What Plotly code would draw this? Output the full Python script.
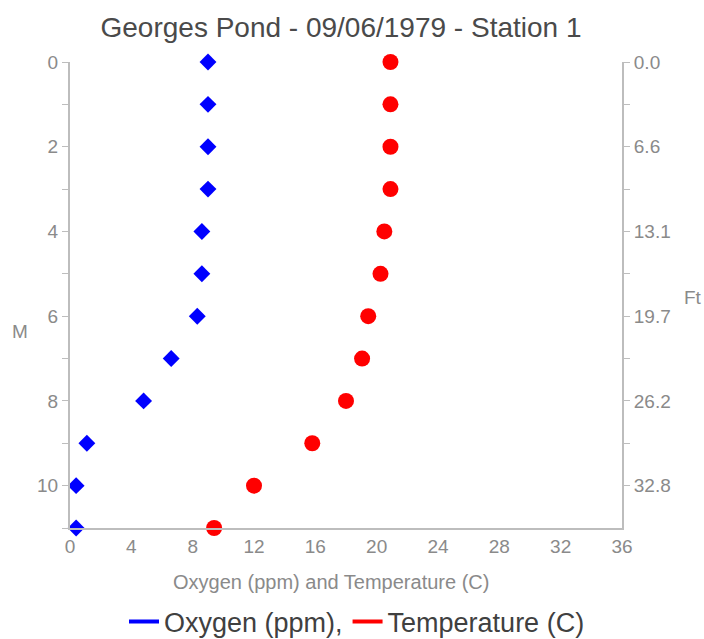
import plotly.graph_objects as go

# Depth profile, Georges Pond, Station 1, 09/06/1979
depth_m = [0, 1, 2, 3, 4, 5, 6, 7, 8, 9, 10, 11]
oxygen_ppm = [9.0, 9.0, 9.0, 9.0, 8.6, 8.6, 8.3, 6.6, 4.8, 1.1, 0.4, 0.4]
temperature_c = [20.9, 20.9, 20.9, 20.9, 20.5, 20.25, 19.45, 19.05, 18.0, 15.8, 12.0, 9.4]

x_ticks = [0, 4, 8, 12, 16, 20, 24, 28, 32, 36]
m_ticks = list(range(0, 12))
M_TO_FT = 3.28084

FONT = "Liberation Sans, Arial, sans-serif"
AXIS_COLOR = "#bdbdbd"
LABEL_GREY = "#8a8a8a"
TICK_FONT = dict(family=FONT, size=19, color=LABEL_GREY)

W, H = 704, 639
L, R, T, B = 70, 82, 62, 111
PW, PH = W - L - R, H - T - B

left_text = [str(m) if m % 2 == 0 and m < 11 else "" for m in m_ticks]
right_text = [f"{m * M_TO_FT:.1f}" if m % 2 == 0 and m < 11 else "" for m in m_ticks]

fig = go.Figure()

fig.add_trace(go.Scatter(
    x=oxygen_ppm, y=depth_m, mode="markers", showlegend=False, cliponaxis=False,
    marker=dict(symbol="diamond", size=13, color="#0000ff"),
    name="Oxygen (ppm)",
))
fig.add_trace(go.Scatter(
    x=temperature_c, y=depth_m, mode="markers", showlegend=False, cliponaxis=False,
    marker=dict(symbol="circle", size=16, color="#ff0000"),
    name="Temperature (C)",
))
# the secondary depth axis in feet shares the metre scale
fig.add_trace(go.Scatter(
    x=[None], y=[None], yaxis="y2", mode="markers", showlegend=False,
    hoverinfo="skip",
))
# legend keys drawn as short lines
fig.add_trace(go.Scatter(
    x=[None], y=[None], mode="lines", name="Oxygen (ppm),",
    line=dict(color="#0000ff", width=4),
))
fig.add_trace(go.Scatter(
    x=[None], y=[None], mode="lines", name="Temperature (C)",
    line=dict(color="#ff0000", width=4),
))


def px_x(p):
    return (p - L) / PW


def px_y(p):
    return 1 - (p - T) / PH


def side_label(text, x, y, size):
    return dict(text=text, x=px_x(x), y=px_y(y), xref="paper", yref="paper",
                xanchor="center", yanchor="middle", showarrow=False,
                font=dict(family=FONT, size=size, color=LABEL_GREY))


fig.update_layout(
    width=W, height=H,
    margin=dict(l=L, r=R, t=T, b=B, autoexpand=False),
    paper_bgcolor="white", plot_bgcolor="white",
    font=dict(family=FONT),
    title=dict(
        text="Georges Pond - 09/06/1979 - Station 1",
        font=dict(family=FONT, size=28, color="#4a4a4a"),
        x=341 / W, xref="container", xanchor="center",
        y=1 - 27 / H, yref="container", yanchor="middle",
    ),
    xaxis=dict(
        range=[0, 36], tickvals=x_ticks, ticks="", automargin=False,
        showline=True, linecolor=AXIS_COLOR, linewidth=2,
        showgrid=False, zeroline=False, tickfont=TICK_FONT,
    ),
    yaxis=dict(
        range=[11, 0], tickvals=m_ticks, ticktext=left_text, automargin=False,
        ticks="outside", ticklen=6, tickwidth=1, tickcolor=AXIS_COLOR,
        showline=True, linecolor=AXIS_COLOR, linewidth=2,
        showgrid=False, zeroline=False, tickfont=TICK_FONT,
    ),
    yaxis2=dict(
        overlaying="y", side="right", anchor="x", automargin=False,
        range=[11, 0], tickvals=m_ticks[:-1], ticktext=right_text[:-1],
        ticks="outside", ticklen=6, tickwidth=1, tickcolor=AXIS_COLOR,
        showline=True, linecolor=AXIS_COLOR, linewidth=2,
        showgrid=False, zeroline=False, tickfont=TICK_FONT,
    ),
    legend=dict(
        orientation="h", x=px_x(357), xanchor="center",
        y=px_y(622), yanchor="middle",
        font=dict(family=FONT, size=27, color="#404040"),
        bgcolor="rgba(0,0,0,0)",
    ),
    annotations=[
        side_label("Oxygen (ppm) and Temperature (C)", 331, 582, 20),
        side_label("M", 20, 331, 19),
        side_label("Ft", 693, 297, 19),
    ],
)

fig.write_html("out.html")
